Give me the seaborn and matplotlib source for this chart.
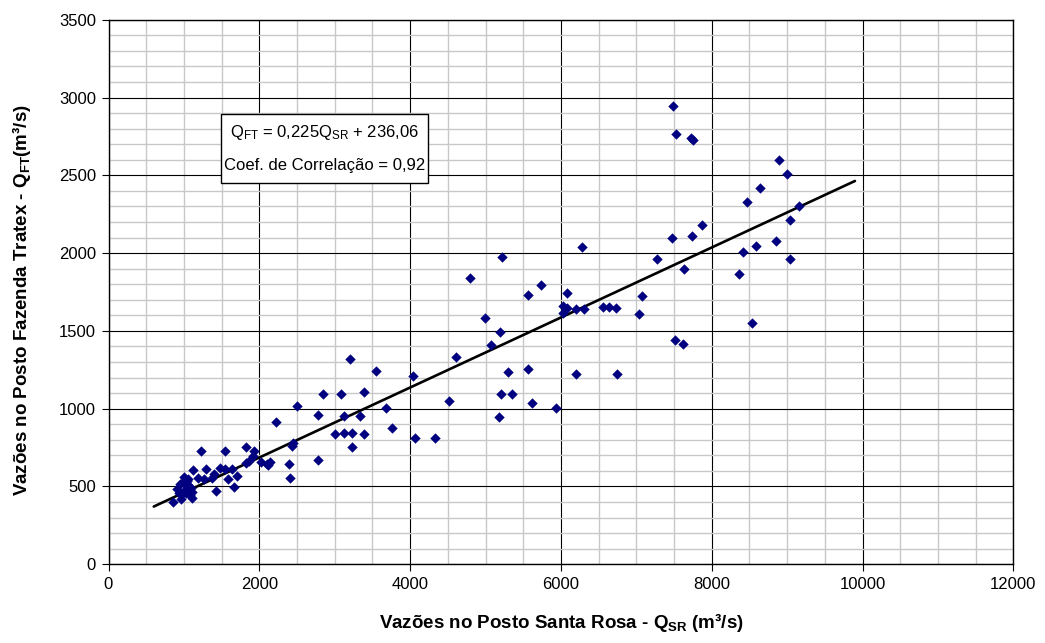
import numpy as np
import pandas as pd
import matplotlib
matplotlib.use("Agg")
import matplotlib.pyplot as plt
from matplotlib.ticker import MultipleLocator
from matplotlib.patches import Rectangle
import seaborn as sns

# ---- data ----
q_sr = [851, 904, 935, 958, 971, 948, 992, 1040, 1037, 1058, 1015, 1028, 1081, 1103, 1107, 1090, 1000, 1060,
        1125, 1227, 1191, 1262, 1293, 1393, 1373, 1430, 1479, 1545, 1634, 1549, 1585, 1668, 1700, 1820, 1926,
        1820, 1867, 1912, 2019, 2098, 2142, 2111, 2217, 2394, 2407, 2430, 2443, 2496, 2779, 2779, 2849, 3084,
        3004, 3123, 3119, 3229, 3393, 3225, 3203, 3548, 3393, 3680, 3340, 3760, 4039, 4061, 4334, 4520, 4604,
        4795, 4998, 5069, 5188, 5175, 5206, 5356, 5294, 5564, 5613, 5939, 5219, 5564, 5732, 6077, 6196, 6740,
        6024, 6077, 6032, 6200, 6306, 6554, 6642, 6727, 7032, 7080, 6284, 7270,
        7490, 7527, 7720, 7750, 8893, 8995, 8636, 8464, 9154, 9034, 7867, 7735, 7473, 8857, 8588, 8420, 9034,
        7629, 8362, 8535, 7509, 7615]
q_ft = [402, 482, 460, 420, 449, 516, 531, 535, 503, 510, 477, 456, 445, 467, 426, 490, 560, 545,
        606, 730, 555, 546, 612, 580, 553, 469, 619, 614, 612, 730, 546, 497, 569, 752, 730,
        653, 666, 696, 656, 647, 657, 640, 912, 645, 557, 760, 782, 1019, 960, 670, 1094, 1094,
        837, 846, 955, 844, 837, 754, 1317, 1242, 1109, 1003, 953, 874, 1208, 812, 810, 1051, 1332,
        1838, 1581, 1409, 1491, 947, 1093, 1093, 1235, 1258, 1035, 1003, 1973, 1731, 1797, 1746, 1225, 1225,
        1660, 1645, 1617, 1641, 1639, 1655, 1655, 1649, 1607, 1724, 2039, 1964,
        2947, 2765, 2742, 2730, 2600, 2510, 2418, 2326, 2305, 2211, 2181, 2112, 2095, 2078, 2046, 2005, 1962,
        1896, 1864, 1549, 1441, 1414]

slope = 0.225
intercept = 236.06
correlation = 0.92
fit_range = [600, 9900]

x_ticks = [0, 2000, 4000, 6000, 8000, 10000, 12000]
y_ticks = [0, 500, 1000, 1500, 2000, 2500, 3000, 3500]

df = pd.DataFrame({"qsr": q_sr, "qft": q_ft})
fit_x = np.array(fit_range, dtype=float)
fit_df = pd.DataFrame({"qsr": fit_x, "qft": slope * fit_x + intercept})

# ---- style ----
sns.set_style("white")
plt.rcParams["font.family"] = ["Liberation Sans", "DejaVu Sans"]
plt.rcParams["mathtext.fontset"] = "custom"
plt.rcParams["mathtext.rm"] = "Liberation Sans"
plt.rcParams["mathtext.it"] = "Liberation Sans"
plt.rcParams["mathtext.bf"] = "Liberation Sans:bold"
plt.rcParams["text.color"] = "black"
plt.rcParams["axes.labelcolor"] = "black"
plt.rcParams["xtick.color"] = "black"
plt.rcParams["ytick.color"] = "black"

W, H = 1045, 643
fig = plt.figure(figsize=(W / 100, H / 100), dpi=100)
ax_l, ax_r, ax_t, ax_b = 108.5, 1013.3, 19.7, 564.3
ax = fig.add_axes([ax_l / W, 1 - ax_b / H, (ax_r - ax_l) / W, (ax_b - ax_t) / H])

# grid
ax.set_xlim(0, 12000)
ax.set_ylim(0, 3500)
ax.xaxis.set_major_locator(MultipleLocator(2000))
ax.yaxis.set_major_locator(MultipleLocator(500))
ax.xaxis.set_minor_locator(MultipleLocator(500))
ax.yaxis.set_minor_locator(MultipleLocator(100))
ax.grid(which="minor", color="#c8c8c8", linewidth=1.0)
ax.grid(which="major", color="#000000", linewidth=0.8)
ax.set_axisbelow(True)

sns.lineplot(data=fit_df, x="qsr", y="qft", color="black", linewidth=1.9, ax=ax, zorder=3)
sns.scatterplot(data=df, x="qsr", y="qft", marker="D", s=28, color="#000080",
                linewidth=0, ax=ax, zorder=4)

ax.set_xticks(x_ticks)
ax.set_yticks(y_ticks)
ax.set_xticklabels([str(t) for t in x_ticks])
ax.set_yticklabels([str(t) for t in y_ticks])
ax.tick_params(axis="both", which="major", direction="out", length=5, width=0.8,
               color="black", labelcolor="black", labelsize=12, pad=4, bottom=True, left=True)
ax.tick_params(axis="both", which="minor", length=0)

for s in ax.spines.values():
    s.set_color("black")
    s.set_linewidth(1.0)

ax.set_xlabel("")
ax.set_ylabel("")
fig.text(((ax_l + ax_r) / 2) / W, 1 - 622 / H,
         r"Vazões no Posto Santa Rosa - $\mathbf{Q_{SR}}$ (m³/s)",
         fontsize=13.5, fontweight="bold", ha="center", va="center", color="black")
fig.text(22 / W, 1 - ((ax_t + ax_b) / 2 + 8) / H,
         r"Vazões no Posto Fazenda Tratex - $\mathbf{Q_{FT}}$(m³/s)",
         fontsize=13.5, fontweight="bold", ha="center", va="center", rotation=90, color="black")

# equation box (pixel layout -> figure fractions)
box_l, box_r, box_t, box_b = 221, 428, 114, 183
fig.patches.append(Rectangle((box_l / W, 1 - box_b / H), (box_r - box_l) / W, (box_b - box_t) / H,
                             transform=fig.transFigure, facecolor="white", edgecolor="black",
                             linewidth=1.0, zorder=5))
fmt = lambda v: str(v).replace(".", ",")
line1 = f"Q$_{{\\mathrm{{FT}}}}$ = {fmt(slope)}Q$_{{\\mathrm{{SR}}}}$ + {fmt(intercept)}"
line2 = f"Coef. de Correlação = {fmt(correlation)}"
cx = ((box_l + box_r) / 2) / W
fig.text(cx, 1 - 133 / H, line1, fontsize=12, ha="center", va="center", zorder=6, color="black")
fig.text(cx, 1 - 166 / H, line2, fontsize=12, ha="center", va="center", zorder=6, color="black")

fig.savefig("out.png", dpi=100, facecolor="white")
